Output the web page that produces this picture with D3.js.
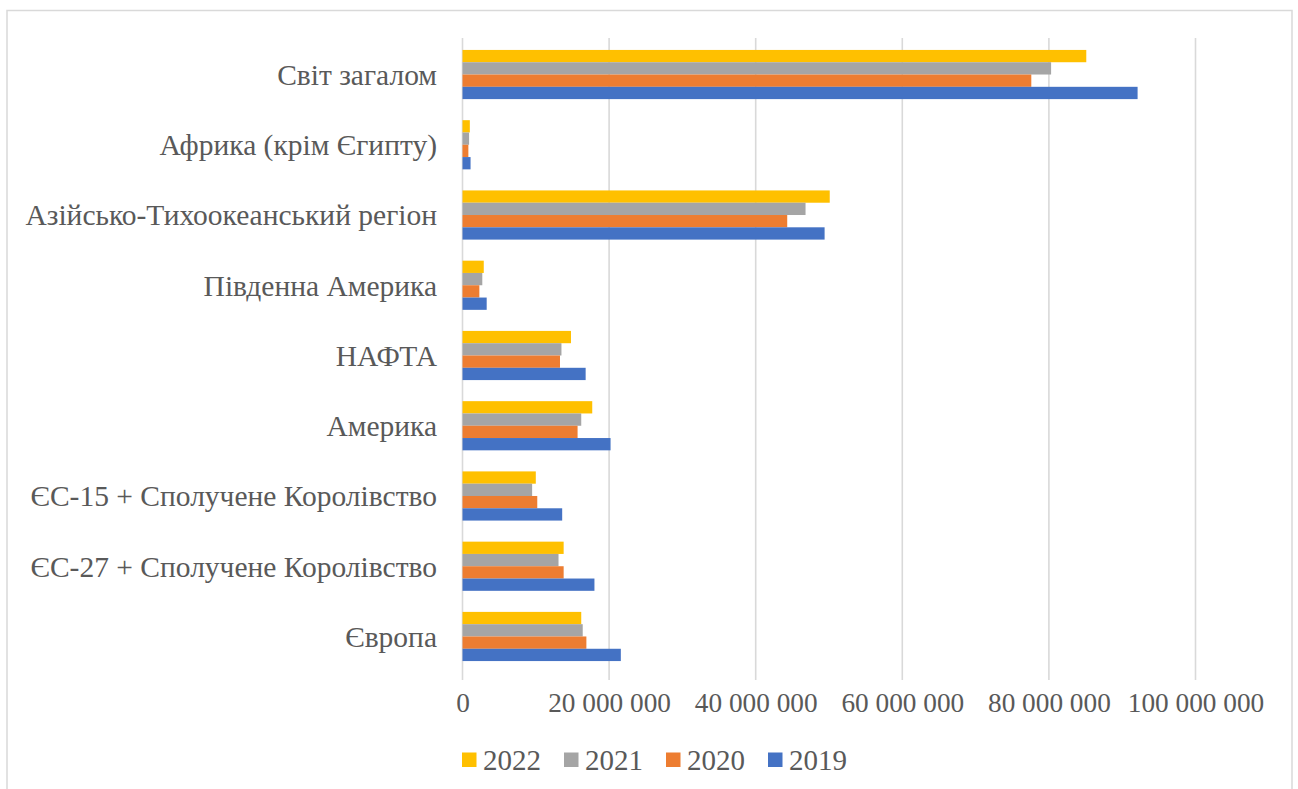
<!DOCTYPE html>
<html>
<head>
<meta charset="utf-8">
<script src="https://cdn.jsdelivr.net/npm/d3@7"></script>
<style>
  html, body { margin: 0; padding: 0; background: #ffffff; }
  svg { display: block; }
  svg text { font-family: "Liberation Serif", "Times New Roman", serif; fill: #595959; }
</style>
</head>
<body>
<svg id="chart" width="1298" height="789"></svg>
<script>
// Regions, listed top to bottom as drawn
const categories = [
  "Світ загалом",
  "Африка (крім Єгипту)",
  "Азійсько-Тихоокеанський регіон",
  "Південна Америка",
  "НАФТА",
  "Америка",
  "ЄС-15 + Сполучене Королівство",
  "ЄС-27 + Сполучене Королівство",
  "Європа"
];

// Series, in the order they stack within each group (top to bottom)
const years = ["2022", "2021", "2020", "2019"];

const values2022 = [85100000, 1000000, 50100000, 2900000, 14800000, 17700000, 10000000, 13800000, 16200000];
const values2021 = [80300000, 900000, 46800000, 2700000, 13500000, 16200000, 9500000, 13100000, 16400000];
const values2020 = [77600000, 800000, 44300000, 2300000, 13300000, 15700000, 10200000, 13800000, 16900000];
const values2019 = [92100000, 1100000, 49400000, 3300000, 16800000, 20200000, 13600000, 18000000, 21600000];

const tickValues = [0, 20000000, 40000000, 60000000, 80000000, 100000000];
const tickLabels = ["0", "20 000 000", "40 000 000", "60 000 000", "80 000 000", "100 000 000"];

const colors = { "2022": "#FFC000", "2021": "#A5A5A5", "2020": "#ED7D31", "2019": "#4472C4" };

const seriesValues = { "2022": values2022, "2021": values2021, "2020": values2020, "2019": values2019 };

const rows = categories.map((c, i) => ({
  category: c,
  bars: years.map(y => ({ year: y, value: seriesValues[y][i] }))
}));

const serif = "'Liberation Serif', 'Times New Roman', serif";
const svg = d3.select("#chart");

// Chart frame
svg.append("rect")
  .attr("x", 7).attr("y", 10.5)
  .attr("width", 1285).attr("height", 800)
  .attr("fill", "#ffffff")
  .attr("stroke", "#D9D9D9").attr("stroke-width", 1.5);

const plot = { left: 462.5, right: 1195.5, top: 39.4, bottom: 671.6 };

const x = d3.scaleLinear().domain([0, 100000000]).range([plot.left, plot.right]);
const y = d3.scaleBand().domain(categories).range([plot.top, plot.bottom])
  .paddingInner(0.3).paddingOuter(0.15);
const ySub = d3.scaleBand().domain(years).range([0, y.bandwidth()]).padding(0);

// Vertical gridlines
svg.append("g").selectAll("line")
  .data(tickValues)
  .join("line")
  .attr("x1", d => x(d)).attr("x2", d => x(d))
  .attr("y1", 38).attr("y2", 680)
  .attr("stroke", "#D9D9D9")
  .attr("stroke-width", 1.6);

// Bars
const groups = svg.append("g").selectAll("g")
  .data(rows)
  .join("g")
  .attr("transform", d => `translate(0,${y(d.category)})`);

groups.selectAll("rect")
  .data(d => d.bars)
  .join("rect")
  .attr("x", x(0))
  .attr("y", d => ySub(d.year))
  .attr("width", d => x(d.value) - x(0))
  .attr("height", ySub.bandwidth())
  .attr("fill", d => colors[d.year]);

// Category labels
const yAxis = d3.axisLeft(y).tickSize(0).tickPadding(0);
const yAxisG = svg.append("g")
  .attr("transform", `translate(437,0)`)
  .call(yAxis);
yAxisG.select(".domain").remove();
yAxisG.selectAll("text")
  .attr("font-size", 29.5)
  .attr("dy", "0.35em")
  .attr("fill", "#595959")
  .style("font-family", serif);

// Value axis labels
const xAxis = d3.axisBottom(x)
  .tickValues(tickValues)
  .tickFormat((d, i) => tickLabels[i])
  .tickSize(0).tickPadding(0);
const xAxisG = svg.append("g")
  .attr("transform", `translate(0,712)`)
  .call(xAxis);
xAxisG.select(".domain").remove();
xAxisG.selectAll("text")
  .attr("font-size", 27.3)
  .attr("dy", 0)
  .attr("y", 0)
  .attr("fill", "#595959")
  .style("font-family", serif);

// Legend
const legend = svg.append("g").attr("transform", "translate(462,760)");
const item = legend.selectAll("g")
  .data(years)
  .join("g")
  .attr("transform", (d, i) => `translate(${i * 102},0)`);
item.append("rect")
  .attr("x", 0).attr("y", -7.5)
  .attr("width", 14.5).attr("height", 14.5)
  .attr("fill", d => colors[d]);
item.append("text")
  .attr("x", 21).attr("y", 0)
  .attr("dy", "0.35em")
  .attr("font-size", 29)
  .attr("fill", "#595959")
  .style("font-family", serif)
  .text(d => d);
</script>
</body>
</html>
